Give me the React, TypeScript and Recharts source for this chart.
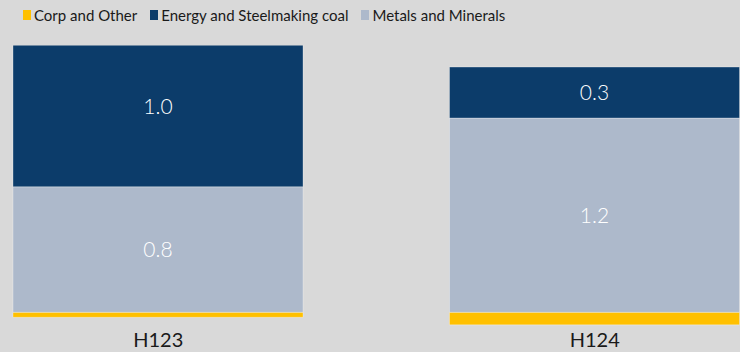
import React from 'react';
import { BarChart, Bar, XAxis, YAxis, LabelList, ReferenceArea } from 'recharts';

const periods = ['H123', 'H124'];
const corpOther = [-0.032, -0.08];
const energyCoal = [1.02, 0.325];
const metalsMinerals = [0.8, 1.238];

// the original axis stops at 1.7, cutting the top of the H123 bar
const axisMax = 1.7;
const domainTop = 1.85;

const series = [
  { key: 'corp', name: 'Corp and Other', color: '#ffc000' },
  { key: 'energy', name: 'Energy and Steelmaking coal', color: '#0c3c6a' },
  { key: 'metals', name: 'Metals and Minerals', color: '#adb9cb' },
];

const data = periods.map((p, i) => ({
  period: p,
  corp: corpOther[i],
  energy: energyCoal[i],
  metals: metalsMinerals[i],
}));

const BG = '#d9d9d9';
const FONT = 'Lato, "Open Sans", sans-serif';
const EDGE = 'rgba(255,255,255,0.3)';
const fmt = (v: any) => Number(v).toFixed(1);

const App: React.FC = () => {
  const coverProps: any = { zIndex: 1000 };
  return (
    <div style={{ width: 740, height: 352, position: 'relative', overflow: 'hidden', background: BG, fontFamily: FONT }}>
      <style>{'body{margin:0}'}</style>
      <BarChart
        width={873}
        height={352}
        data={data}
        margin={{ top: 22, right: 0, bottom: 0, left: 0 }}
        barSize={290}
        stackOffset="sign"
        style={{ position: 'absolute', left: -60, top: 0 }}
      >
        <XAxis
          dataKey="period"
          height={24}
          axisLine={false}
          tickLine={false}
          tickSize={0}
          tickMargin={5}
          tick={{ fontSize: 20, fill: '#1a1a1a', fontFamily: FONT }}
        />
        <YAxis hide domain={[-0.1, domainTop]} allowDataOverflow />
        <Bar dataKey="corp" stackId="a" fill="#ffc000" stroke={EDGE} isAnimationActive={false} />
        <Bar dataKey="metals" stackId="a" fill="#adb9cb" stroke={EDGE} isAnimationActive={false}>
          <LabelList dataKey="metals" position="center" formatter={fmt} fill="#ffffff" fontSize={21} fontWeight={300} fontFamily={FONT} />
        </Bar>
        <Bar dataKey="energy" stackId="a" fill="#0c3c6a" stroke={EDGE} isAnimationActive={false}>
          <LabelList dataKey="energy" position="center" formatter={fmt} fill="#ffffff" fontSize={21} fontWeight={300} fontFamily={FONT} />
        </Bar>
        <ReferenceArea
          y1={axisMax}
          y2={domainTop}
          fill={BG}
          fillOpacity={1}
          stroke="none"
          ifOverflow="hidden"
          {...coverProps}
        />
      </BarChart>
      <div style={{ position: 'absolute', top: 6, left: 23, display: 'flex', fontSize: 15, lineHeight: '18px', color: '#1a1a1a' }}>
        {series.map((s) => (
          <div key={s.key} style={{ display: 'flex', alignItems: 'center', marginRight: 13 }}>
            <span style={{ width: 8, height: 10, background: s.color, display: 'inline-block', marginRight: 3 }} />
            <span>{s.name}</span>
          </div>
        ))}
      </div>
    </div>
  );
};

export default App;
